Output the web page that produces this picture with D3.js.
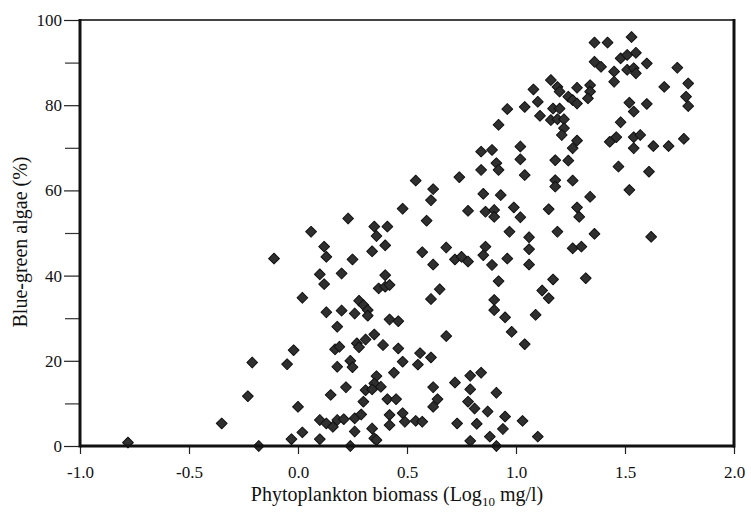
<!DOCTYPE html>
<html>
<head>
<meta charset="utf-8">
<script src="https://cdn.jsdelivr.net/npm/d3@7"></script>
<style>
  html, body { margin: 0; padding: 0; background: #fff; }
  svg { display: block; }
  text { font-family: "Liberation Serif", "Times New Roman", serif; fill: #111; }
</style>
</head>
<body>
<svg id="chart" width="751" height="514"></svg>
<script>
// Phytoplankton biomass (log10 mg/l)
const biomass = [
  -0.78,-0.18,-0.35,-0.23,-0.21,-0.11,-0.05,-0.03,-0.02,0.00,0.02,0.02,0.06,0.10,0.10,0.12,0.12,0.13,0.13,
  0.36,0.34,0.40,0.25,0.57,0.68,0.72,0.75,0.78,0.62,0.20,0.40,0.37,0.40,0.42,0.65,0.61,0.28,0.30,0.32,0.20,
  0.26,0.32,0.42,0.46,0.18,0.68,0.35,0.31,0.27,0.28,0.39,0.46,0.17,0.19,0.56,0.61,0.48,0.55,0.24,0.25,0.18,
  0.44,0.36,0.35,0.38,0.31,0.34,0.30,0.41,0.45,0.22,0.15,0.62,0.64,0.62,0.72,0.10,0.13,0.16,0.18,0.21,0.26,
  0.29,0.42,0.42,0.48,0.49,0.54,0.57,0.73,0.26,0.34,0.35,0.36,0.24,
  0.97,1.06,1.06,1.19,1.36,0.86,0.85,0.89,0.96,1.06,1.26,1.30,1.32,1.17,0.92,1.12,1.15,0.90,0.90,0.95,1.09,
  0.98,1.04,0.79,0.84,0.79,0.91,0.78,0.81,0.87,0.95,1.03,0.94,0.82,0.88,0.79,0.91,1.10,
  1.62,
  0.54,0.74,0.62,0.61,0.48,0.23,0.59,0.35,0.41,
  1.36,1.36,1.39,1.16,1.19,1.20,1.28,1.34,1.34,1.33,1.24,1.26,1.28,1.08,1.10,1.04,0.96,1.11,1.17,1.20,1.16,
  1.19,1.22,1.22,1.21,0.92,1.28,1.26,0.84,0.89,1.02,1.02,0.84,0.91,0.92,1.18,1.24,1.04,1.18,1.18,1.26,1.34,
  0.85,0.93,0.78,0.86,0.90,0.90,0.99,1.02,1.15,1.28,1.29,
  1.42,1.53,1.48,1.51,1.55,1.45,1.45,1.51,1.54,1.55,1.60,1.74,1.68,1.79,1.78,1.79,1.52,1.54,1.60,1.48,1.43,
  1.46,1.54,1.57,1.54,1.63,1.70,1.77,1.47,1.61,1.52
];
// Blue-green algae (%)
const blueGreen = [
  0.8,0,5.3,11.7,19.6,44.0,19.2,1.6,22.5,9.2,3.2,34.8,50.3,40.3,1.6,38.0,46.8,44.4,31.4,
  49.3,45.7,47.1,43.8,45.5,46.6,43.8,44.4,43.3,42.6,40.5,40.1,37.0,37.4,37.8,36.8,34.5,34.1,33.1,31.9,31.8,
  31.1,30.6,29.7,29.3,28.0,25.8,26.2,25.0,24.1,23.2,23.7,22.9,22.7,23.3,21.8,20.8,19.8,19.1,20.0,18.5,18.6,
  17.2,16.4,14.7,13.9,13.1,13.3,10.4,11.0,11.0,13.8,12.0,13.8,11.0,9.2,14.9,6.1,5.3,4.5,6.1,6.3,6.5,
  7.4,7.3,4.9,7.7,5.7,5.9,5.7,5.3,3.4,4.1,1.8,1.4,0,
  50.3,49.0,46.2,50.3,49.8,46.8,44.8,42.5,44.0,42.6,46.4,46.8,39.4,39.1,38.7,36.5,34.7,34.3,31.9,30.2,30.8,
  26.8,23.9,16.5,17.2,13.3,12.5,10.4,8.8,8.1,6.9,5.9,4.0,5.2,2.2,1.2,0,2.2,
  49.1,
  62.3,63.1,60.3,57.7,55.7,53.4,52.9,51.5,51.5,
  94.7,90.2,89.0,85.9,84.3,83.2,84.1,84.7,83.2,81.6,82.0,81.2,80.4,83.7,80.8,79.6,79.1,77.5,79.2,79.2,76.5,
  76.7,76.7,74.6,73.0,75.4,71.7,69.9,69.1,69.5,70.3,67.3,64.8,66.4,64.8,67.1,67.0,63.6,62.4,60.9,62.3,58.5,
  59.2,58.9,55.2,55.0,55.4,53.8,56.0,53.7,55.6,56.0,53.8,
  94.7,96.0,91.0,91.8,92.3,87.9,85.5,88.3,88.7,87.5,89.8,88.8,84.3,85.1,82.0,79.8,80.6,78.5,80.3,76.0,71.4,
  72.5,72.5,73.0,69.9,70.4,70.4,72.1,65.6,64.4,60.1
];
const xTicks = [-1.0, -0.5, 0.0, 0.5, 1.0, 1.5, 2.0];
const yTicks = [0, 20, 40, 60, 80, 100];
const yMinorTicks = [10, 30, 50, 70, 90];

const svg = d3.select("#chart");
const mLeft = 80, mRight = 734, mTop = 20, mBottom = 446;

const x = d3.scaleLinear().domain([-1, 2]).range([mLeft, mRight]);
const y = d3.scaleLinear().domain([0, 100]).range([mBottom, mTop]);

// points
const points = d3.range(biomass.length).map(i => ({x: biomass[i], y: blueGreen[i]}));
const sym = d3.symbol().type(d3.symbolSquare).size(58);
svg.append("g").selectAll("path").data(points).join("path")
  .attr("d", sym)
  .attr("transform", d => `translate(${x(d.x)},${y(d.y)}) rotate(45)`)
  .attr("fill", "#2f2f2f")
  .attr("stroke", "#111")
  .attr("stroke-width", 1)
  .attr("stroke-linejoin", "round");

// x axis
const xAxis = d3.axisBottom(x).tickValues(xTicks).tickFormat(d => d.toFixed(1)).tickSize(8).tickSizeOuter(0);
const gx = svg.append("g").attr("transform", `translate(0,${mBottom})`).call(xAxis);
gx.select(".domain").remove();
gx.selectAll(".tick line").attr("stroke", "#222").attr("stroke-width", 1.2);
gx.selectAll(".tick text").attr("font-size", 17).attr("font-family", "Liberation Serif, serif")
  .attr("dy", null).attr("y", 32).attr("fill", "#111");

// y axis
const yAxis = d3.axisLeft(y).tickValues(yTicks).tickFormat(d3.format("d")).tickSize(16).tickPadding(2).tickSizeOuter(0);
const gy = svg.append("g").attr("transform", `translate(${mLeft},0)`).call(yAxis);
gy.select(".domain").remove();
gy.selectAll(".tick line").attr("stroke", "#222").attr("stroke-width", 1.2);
gy.selectAll(".tick text").attr("font-size", 17).attr("font-family", "Liberation Serif, serif").attr("fill", "#111");
const gyMinor = svg.append("g").attr("transform", `translate(${mLeft},0)`)
  .call(d3.axisLeft(y).tickValues(yMinorTicks).tickFormat("").tickSize(15).tickSizeOuter(0));
gyMinor.select(".domain").remove();
gyMinor.selectAll(".tick line").attr("stroke", "#333").attr("stroke-width", 1.2);

// frame
svg.append("line").attr("x1", mLeft).attr("x2", mRight).attr("y1", mTop).attr("y2", mTop)
  .attr("stroke", "#444").attr("stroke-width", 2);
svg.append("line").attr("x1", mLeft).attr("x2", mLeft).attr("y1", mTop - 1).attr("y2", mBottom + 1.5)
  .attr("stroke", "#111").attr("stroke-width", 3);
svg.append("line").attr("x1", mRight).attr("x2", mRight).attr("y1", mTop - 1).attr("y2", mBottom + 1.5)
  .attr("stroke", "#111").attr("stroke-width", 3);
svg.append("line").attr("x1", mLeft).attr("x2", mRight).attr("y1", mBottom).attr("y2", mBottom)
  .attr("stroke", "#111").attr("stroke-width", 3);

// titles
const xt = svg.append("text").attr("x", 397).attr("y", 501).attr("text-anchor", "middle")
  .attr("font-size", 20);
xt.append("tspan").text("Phytoplankton biomass (Log");
xt.append("tspan").attr("font-size", 13).attr("dy", 5).text("10");
xt.append("tspan").attr("dy", -5).text(" mg/l)");

svg.append("text").attr("transform", "translate(27,242) rotate(-90)")
  .attr("text-anchor", "middle").attr("font-size", 20).text("Blue-green algae (%)");
</script>
</body>
</html>
